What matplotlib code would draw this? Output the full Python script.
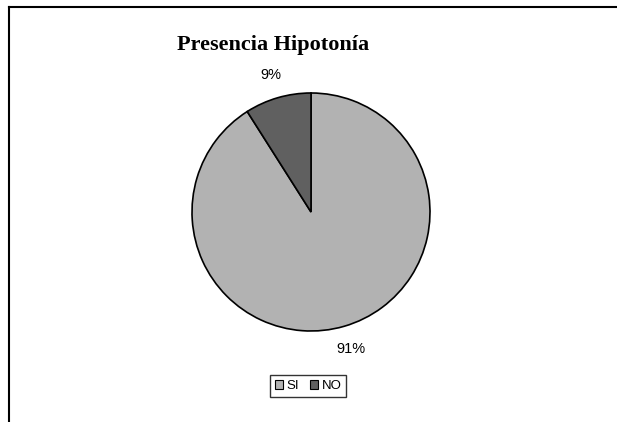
import matplotlib.pyplot as plt
from matplotlib.patches import Patch
from matplotlib.lines import Line2D

categories = ['SI', 'NO']
values = [91, 9]
pct_labels = ['91%', '9%']
colors = ['#b2b2b2', '#606060']

W, H = 617, 422
fig = plt.figure(figsize=(W / 100, H / 100), dpi=100)
fig.patch.set_facecolor('white')

# pie: center ~ (311, 212) px, radius ~119 px
cx, cy, r = 311, 212, 119
ax = fig.add_axes([(cx - r) / W, (H - cy - r) / H, 2 * r / W, 2 * r / H])
wedges, texts = ax.pie(values, labels=pct_labels, colors=colors, startangle=90,
                       counterclock=False, labeldistance=1.2,
                       wedgeprops=dict(edgecolor='black', linewidth=1.2),
                       textprops=dict(family='Liberation Sans', fontsize=10.5))
for t in texts:
    t.set_ha('center')
    t.set_va('center')
ax.set_xlim(-1, 1)
ax.set_ylim(-1, 1)
ax.set_aspect('equal')
ax.axis('off')

fig.text(273 / W, 1 - 50 / H, 'Presencia Hipotonía', ha='center', va='baseline',
         family='Liberation Serif', fontweight='bold', fontsize=16)

# outer frame lines (left and top)
fig.add_artist(Line2D([8.5 / W, 8.5 / W], [0, 1 - 7 / H], transform=fig.transFigure,
                      color='black', lw=1.5))
fig.add_artist(Line2D([8.5 / W, 1], [1 - 7 / H, 1 - 7 / H], transform=fig.transFigure,
                      color='black', lw=1.5))

handles = [Patch(facecolor=c, edgecolor='black', linewidth=0.8) for c in colors]
leg = fig.legend(handles, categories, loc='center', bbox_to_anchor=(308 / W, 1 - 386 / H),
                 ncol=2, frameon=True, fancybox=False, handlelength=0.6, handleheight=0.6,
                 handletextpad=0.3, columnspacing=0.8, borderpad=0.35,
                 prop=dict(family='Liberation Sans', size=9.5))
leg.get_frame().set_edgecolor('black')
leg.get_frame().set_linewidth(1.0)

fig.savefig('out.png', dpi=100)
